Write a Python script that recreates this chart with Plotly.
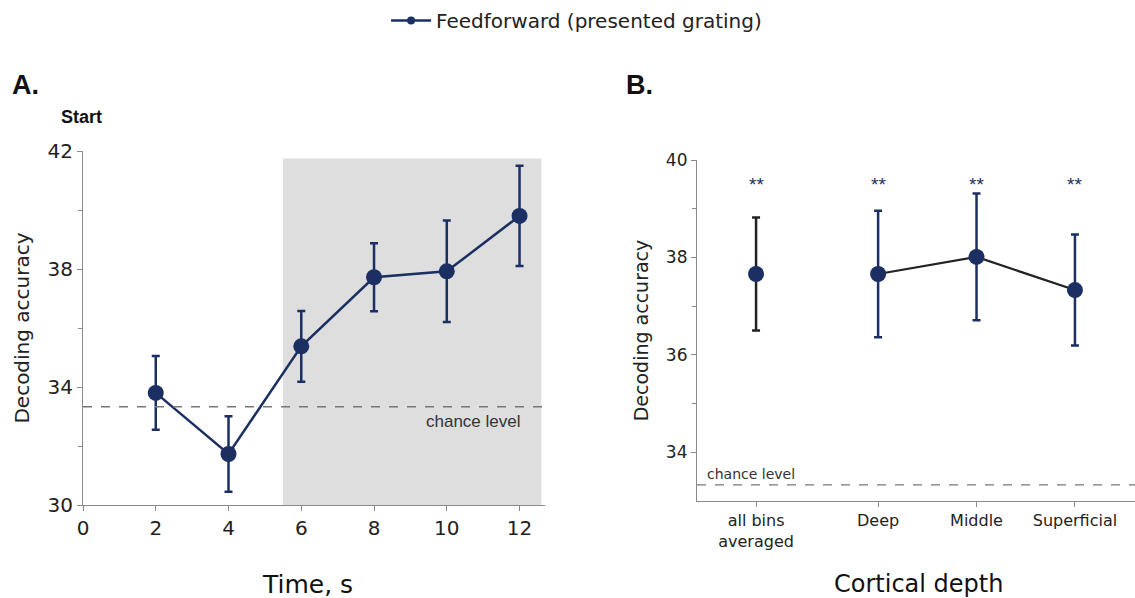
import plotly.graph_objects as go

# Panel A data
time_s = [2, 4, 6, 8, 10, 12]
acc_a = [33.8, 31.73, 35.38, 37.72, 37.92, 39.8]
err_a = [1.25, 1.28, 1.2, 1.15, 1.72, 1.7]

# Panel B data
cat_labels = ["all bins<br>averaged", "Deep", "Middle", "Superficial"]
cat_pos = [0, 1.24, 2.24, 3.24]
acc_b = [37.66, 37.66, 38.01, 37.33]
err_b = [1.16, 1.3, 1.3, 1.14]
stars = ["**", "**", "**", "**"]

chance = 33.33
shade = [5.5, 12.6, 41.75]

NAVY = "#1b2f63"
DARK = "#222222"
AX = "#8a8a8a"
FONT = "DejaVu Sans"

fig = go.Figure()

fig.add_trace(go.Scatter(
    x=time_s, y=acc_a, mode="lines+markers",
    name="Feedforward (presented grating)",
    line=dict(color=NAVY, width=2.5),
    marker=dict(color=NAVY, size=16),
    error_y=dict(type="data", array=err_a, color=NAVY, thickness=2.5, width=4),
    xaxis="x", yaxis="y", showlegend=False,
))
# legend entry (smaller symbol, as in the reference)
fig.add_trace(go.Scatter(
    x=[None], y=[None], mode="lines+markers",
    name="Feedforward (presented grating)",
    line=dict(color=NAVY, width=2.5),
    marker=dict(color=NAVY, size=8),
    xaxis="x", yaxis="y", showlegend=True,
))

fig.add_trace(go.Scatter(
    x=cat_pos[:1], y=acc_b[:1], mode="markers",
    marker=dict(color=NAVY, size=16),
    error_y=dict(type="data", array=err_b[:1], color=DARK, thickness=2.5, width=4),
    xaxis="x2", yaxis="y2", showlegend=False,
))
fig.add_trace(go.Scatter(
    x=cat_pos[1:], y=acc_b[1:], mode="lines+markers",
    line=dict(color=DARK, width=2.2),
    marker=dict(color=NAVY, size=16),
    error_y=dict(type="data", array=err_b[1:], color=NAVY, thickness=2.5, width=4),
    xaxis="x2", yaxis="y2", showlegend=False,
))

# shaded region in A
fig.add_shape(type="rect", xref="x", yref="y", x0=shade[0], x1=shade[1],
              y0=30, y1=shade[2], fillcolor="#dedede", line=dict(width=0), layer="below")
# chance lines
fig.add_shape(type="line", xref="x", yref="y", x0=0, x1=12.7, y0=chance, y1=chance,
              line=dict(color="#777777", width=1.3, dash="dash"))
fig.add_shape(type="line", xref="x2", yref="y2", x0=-0.6, x1=3.85, y0=chance, y1=chance,
              line=dict(color="#777777", width=1.3, dash="dash"))

# stars
for xp, s in zip(cat_pos, stars):
    fig.add_annotation(x=xp, y=39.5, xref="x2", yref="y2", text=s, showarrow=False,
                       font=dict(family="Liberation Sans", size=19, color=NAVY))

ann = [
    dict(x=10, y=85, text="<b>A.</b>", size=27, family="Liberation Sans", anchor="left"),
    dict(x=624, y=85, text="<b>B.</b>", size=27, family="Liberation Sans", anchor="left"),
    dict(x=59, y=117, text="<b>Start</b>", size=18, family="Liberation Sans", anchor="left"),
    dict(x=307, y=584, text="Time, s", size=25, family=FONT, anchor="center"),
    dict(x=918, y=584, text="Cortical depth", size=24, family=FONT, anchor="center"),
]
for a in ann:
    fig.add_annotation(x=a["x"] / 1135, y=1 - a["y"] / 598, xref="paper", yref="paper", text=a["text"],
                       showarrow=False, xanchor=a["anchor"], yanchor="middle",
                       font=dict(family=a["family"], size=a["size"], color="#111111"))

fig.add_annotation(x=12.1, y=chance, xref="x", yref="y", text="chance level", showarrow=False,
                   xanchor="right", yanchor="top", yshift=-3,
                   font=dict(family="Liberation Sans", size=17, color="#333333"))
fig.add_annotation(x=-0.52, y=chance, xref="x2", yref="y2", text="chance level", showarrow=False,
                   xanchor="left", yanchor="bottom", yshift=1,
                   font=dict(family=FONT, size=14, color="#333333"))

fig.update_layout(
    width=1135, height=598,
    margin=dict(l=0, r=0, t=0, b=0),
    paper_bgcolor="white", plot_bgcolor="white",
    font=dict(family=FONT, color="#222222"),
    legend=dict(orientation="h", x=0.508, xanchor="center", y=1.0 - 1 / 598, yanchor="top",
                font=dict(family=FONT, size=20, color="#222222"), itemwidth=40),
    xaxis=dict(domain=[83 / 1135, 545 / 1135], range=[0, 12.7], tickvals=[0, 2, 4, 6, 8, 10, 12],
               showline=True, linecolor=AX, linewidth=1.2, ticks="outside", ticklen=5,
               tickcolor=AX, showgrid=False, zeroline=False, automargin=False,
               tickfont=dict(size=20, color="#222222")),
    yaxis=dict(domain=[1 - 505 / 598, 1 - 151 / 598], range=[30, 42], tickvals=[30, 34, 38, 42],
               showline=True, linecolor=AX, linewidth=1.2, ticks="outside", ticklen=5,
               tickcolor=AX, showgrid=False, zeroline=False, automargin=False,
               minor=dict(tickvals=[32, 36, 40], ticks="outside", ticklen=4, tickcolor=AX),
               tickfont=dict(size=20, color="#222222"),
               title=dict(text="Decoding accuracy", font=dict(size=20), standoff=12)),
    xaxis2=dict(domain=[697 / 1135, 1.0], range=[-0.6, 3.85], tickvals=cat_pos, ticktext=cat_labels,
                showline=True, linecolor=AX, linewidth=1.2, ticks="outside", ticklen=5,
                tickcolor=AX, showgrid=False, zeroline=False, anchor="y2", automargin=False,
                tickfont=dict(size=16, color="#222222")),
    yaxis2=dict(domain=[1 - 501 / 598, 1 - 160 / 598], range=[33, 40], tickvals=[34, 36, 38, 40],
                showline=True, linecolor=AX, linewidth=1.2, ticks="outside", ticklen=5,
                tickcolor=AX, showgrid=False, zeroline=False, anchor="x2", automargin=False,
                minor=dict(tickvals=[35, 37, 39], ticks="outside", ticklen=4, tickcolor=AX),
                tickfont=dict(size=17, color="#222222"),
                title=dict(text="Decoding accuracy", font=dict(size=19), standoff=12)),
)

fig.write_html("out.html")
